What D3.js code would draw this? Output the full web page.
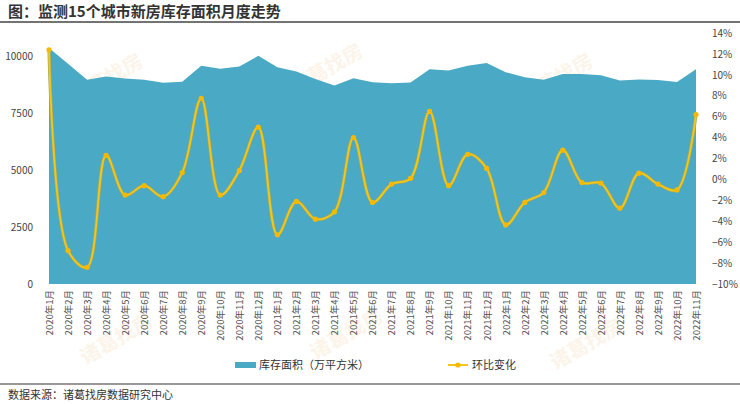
<!DOCTYPE html>
<html lang="zh">
<head>
<meta charset="utf-8">
<title>监测15个城市新房库存面积月度走势</title>
<script src="https://cdn.jsdelivr.net/npm/d3@7"></script>
<style>
  body { margin: 0; background: #fff; }
  text { font-family: "Noto Sans CJK SC", "Noto Sans", sans-serif; }
</style>
</head>
<body>
<script>
// months 2020-01 .. 2022-11
var months = ["2020年1月","2020年2月","2020年3月","2020年4月","2020年5月","2020年6月","2020年7月","2020年8月","2020年9月","2020年10月","2020年11月","2020年12月",
  "2021年1月","2021年2月","2021年3月","2021年4月","2021年5月","2021年6月","2021年7月","2021年8月","2021年9月","2021年10月","2021年11月","2021年12月",
  "2022年1月","2022年2月","2022年3月","2022年4月","2022年5月","2022年6月","2022年7月","2022年8月","2022年9月","2022年10月","2022年11月"];

// 库存面积 (万平方米)
var stock = [10340, 9650, 8950, 9090, 9005, 8950, 8815, 8860, 9560, 9430, 9530, 10000,
  9500, 9310, 8980, 8700, 9020, 8840, 8800, 8830, 9415, 9360, 9560, 9680,
  9285, 9065, 8950, 9200, 9200, 9150, 8920, 8960, 8935, 8850, 9415];

// 环比变化 (%)
var mom = [12.4, -6.8, -8.4, 2.3, -1.5, -0.6, -1.65, 0.65, 7.75, -1.5, 0.85, 5.0,
  -5.3, -2.1, -3.8, -3.1, 4.0, -2.2, -0.45, 0.1, 6.5, -0.6, 2.4, 1.05,
  -4.35, -2.2, -1.25, 2.8, -0.3, -0.35, -2.75, 0.6, -0.45, -1.0, 6.2];

var leftTicks = [0, 2500, 5000, 7500, 10000];
var rightTicks = [-10, -8, -6, -4, -2, 0, 2, 4, 6, 8, 10, 12, 14];

var w = 740, h = 404;
var plotTop = 33, plotBottom = 284;

var svg = d3.select("body").append("svg")
  .attr("width", w)
  .attr("height", h);

// faint watermark
var marks = [[110, 85], [330, 75], [560, 85], [250, 215], [470, 205], [120, 345], [350, 340], [590, 350]];
svg.selectAll(".wm")
  .data(marks)
  .enter()
  .append("text")
  .attr("class", "wm")
  .attr("transform", function(d) { return "translate(" + d[0] + "," + d[1] + ") rotate(-30)"; })
  .attr("text-anchor", "middle")
  .attr("font-size", "20px")
  .attr("font-weight", "bold")
  .attr("fill", "#f8dcb8")
  .attr("opacity", 0.3)
  .text("诸葛找房");

// title
svg.append("text")
  .attr("x", 8)
  .attr("y", 17)
  .attr("font-size", "15px")
  .attr("font-weight", "bold")
  .attr("fill", "#333")
  .text("图：监测15个城市新房库存面积月度走势");

svg.append("line")
  .attr("x1", 0).attr("x2", w)
  .attr("y1", 22).attr("y2", 22)
  .attr("stroke", "#444")
  .attr("stroke-width", 1.5);

var xScale = d3.scalePoint()
  .domain(months)
  .range([49, 696]);

var yLeft = d3.scaleLinear()
  .domain([0, 11000])
  .range([plotBottom, plotTop]);

var yRight = d3.scaleLinear()
  .domain([-10, 14])
  .range([plotBottom, plotTop]);

// area
var area = d3.area()
  .x(function(d, i) { return xScale(months[i]); })
  .y0(yLeft(0))
  .y1(function(d) { return yLeft(d); });

svg.append("path")
  .datum(stock)
  .attr("d", area)
  .attr("fill", "#4aa9c5");

// smooth line
var line = d3.line()
  .x(function(d, i) { return xScale(months[i]); })
  .y(function(d) { return yRight(d); })
  .curve(d3.curveCatmullRom.alpha(0.5));

svg.append("path")
  .datum(mom)
  .attr("d", line)
  .attr("fill", "none")
  .attr("stroke", "#a8a85a")
  .attr("stroke-width", 3.2);

svg.append("path")
  .datum(mom)
  .attr("d", line)
  .attr("fill", "none")
  .attr("stroke", "#f2c818")
  .attr("stroke-width", 1.8);

svg.selectAll(".dot")
  .data(mom)
  .enter()
  .append("circle")
  .attr("class", "dot")
  .attr("cx", function(d, i) { return xScale(months[i]); })
  .attr("cy", function(d) { return yRight(d); })
  .attr("r", 2.6)
  .attr("fill", "#f7b900");

// left axis
var yAxisL = d3.axisLeft(yLeft)
  .tickValues(leftTicks)
  .tickSize(0)
  .tickPadding(0)
  .tickFormat(d3.format("d"));

svg.append("g")
  .attr("class", "y axis")
  .attr("transform", "translate(33,0)")
  .call(yAxisL)
  .call(function(g) { g.select(".domain").remove(); })
  .selectAll("text")
  .attr("font-size", "10px")
  .attr("fill", "#444");

// right axis
var yAxisR = d3.axisRight(yRight)
  .tickValues(rightTicks)
  .tickSize(0)
  .tickPadding(0)
  .tickFormat(function(d) { return (d < 0 ? "\u2212" + (-d) : d) + "%"; });

svg.append("g")
  .attr("class", "y2 axis")
  .attr("transform", "translate(712,0)")
  .call(yAxisR)
  .call(function(g) { g.select(".domain").remove(); })
  .selectAll("text")
  .attr("font-size", "10px")
  .attr("fill", "#444");

// x axis labels (rotated)
var xAxis = d3.axisBottom(xScale)
  .tickSize(0)
  .tickPadding(0);

svg.append("g")
  .attr("class", "x axis")
  .attr("transform", "translate(0," + plotBottom + ")")
  .call(xAxis)
  .call(function(g) { g.select(".domain").remove(); })
  .selectAll("text")
  .attr("font-size", "9.5px")
  .attr("fill", "#555")
  .attr("text-anchor", "end")
  .attr("dy", "0.35em")
  .attr("transform", "translate(0,6) rotate(-90)");

// legend
svg.append("rect")
  .attr("x", 235).attr("y", 362)
  .attr("width", 21).attr("height", 6)
  .attr("fill", "#4aa9c5");

svg.append("text")
  .attr("x", 259).attr("y", 369)
  .attr("font-size", "11px")
  .attr("fill", "#333")
  .text("库存面积（万平方米）");

svg.append("line")
  .attr("x1", 448).attr("x2", 468)
  .attr("y1", 365).attr("y2", 365)
  .attr("stroke", "#f2c818")
  .attr("stroke-width", 2);

svg.append("circle")
  .attr("cx", 458).attr("cy", 365)
  .attr("r", 2.6)
  .attr("fill", "#f7b900");

svg.append("text")
  .attr("x", 472).attr("y", 369)
  .attr("font-size", "11px")
  .attr("fill", "#333")
  .text("环比变化");

// bottom rule + source
svg.append("line")
  .attr("x1", 0).attr("x2", w)
  .attr("y1", 384).attr("y2", 384)
  .attr("stroke", "#333")
  .attr("stroke-width", 1.2);

svg.append("text")
  .attr("x", 8).attr("y", 399)
  .attr("font-size", "11px")
  .attr("fill", "#333")
  .text("数据来源：诸葛找房数据研究中心");
</script>
</body>
</html>
